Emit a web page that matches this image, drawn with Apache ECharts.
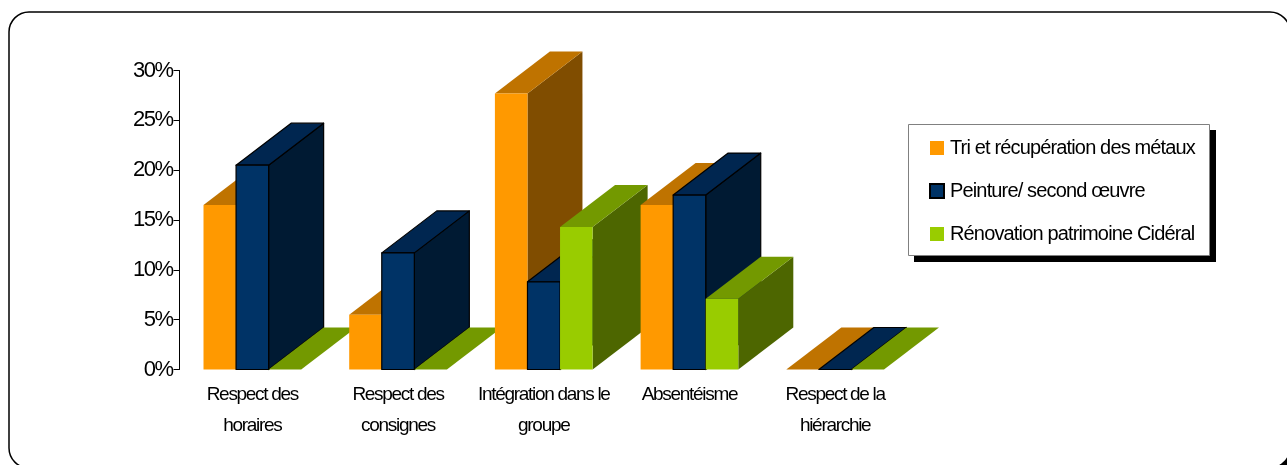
<!DOCTYPE html>
<html>
<head>
<meta charset="utf-8">
<style>html,body{margin:0;padding:0;background:#fff;overflow:hidden}#c{width:1287px;height:465px}</style>
<script src="https://cdn.jsdelivr.net/npm/echarts@6/dist/echarts.min.js"></script>
</head>
<body>
<div id="c"></div>
<script>
const categories = ['Respect des\nhoraires', 'Respect des\nconsignes', 'Intégration dans le\ngroupe', 'Absentéisme', 'Respect de la\nhiérarchie'];
const seriesNames = ['Tri et récupération des métaux', 'Peinture/ second œuvre', 'Rénovation patrimoine Cidéral'];
const triValues = [16.5, 5.5, 27.7, 16.5, 0];
const peintureValues = [20.5, 11.7, 8.8, 17.5, 0];
const renovationValues = [0, 0, 14.3, 7.1, 0];
const frontColors = ['#ff9900', '#003366', '#99cc00'];
const topColors = ['#bf7300', '#002650', '#739900'];
const sideColors = ['#804d00', '#001a33', '#4d6600'];
const strokeColors = [null, '#000000', null];
const depthX = 55, depthY = 42, barShare = 0.2235;
const spacingBySize = {22: -1.5, 20: -0.85, 19: -1.3};

// tight glyph spacing of the original rendering
const nativeFill = CanvasRenderingContext2D.prototype.fillText;
CanvasRenderingContext2D.prototype.fillText = function (t, x, y, m) {
  const size = parseInt((this.font.match(/(\d+)px/) || [])[1], 10);
  this.letterSpacing = (spacingBySize[size] || 0) + 'px';
  return m === undefined ? nativeFill.call(this, t, x, y) : nativeFill.call(this, t, x, y, m);
};

function bar3d(seriesIndex) {
  return function (params, api) {
    const cat = api.value(0);
    const top = api.coord([cat, api.value(1)]);
    const base = api.coord([cat, 0]);
    const w = api.size([1, 0])[0] * barShare;
    const x0 = top[0] + (seriesIndex - 1.5) * w;
    const x1 = x0 + w;
    const yT = top[1], yB = base[1];
    const order = cat * 10 + seriesIndex * 3;
    const stroke = strokeColors[seriesIndex];
    const line = stroke ? { stroke: stroke, lineWidth: 1.2, lineJoin: 'round' } : { stroke: null };
    const poly = (pts, fill, k) => ({
      type: 'polygon', z2: order + k,
      shape: { points: pts },
      style: Object.assign({ fill: fill }, line)
    });
    const children = [
      poly([[x1, yT], [x1 + depthX, yT - depthY], [x1 + depthX, yB - depthY], [x1, yB]], sideColors[seriesIndex], 0),
      poly([[x0, yT], [x0 + depthX, yT - depthY], [x1 + depthX, yT - depthY], [x1, yT]], topColors[seriesIndex], 1)
    ];
    if (yB > yT) children.push(poly([[x0, yT], [x1, yT], [x1, yB], [x0, yB]], frontColors[seriesIndex], 2));
    return { type: 'group', children: children };
  };
}

const allValues = [triValues, peintureValues, renovationValues];
const chart = echarts.init(document.getElementById('c'), null, { renderer: 'canvas' });
chart.setOption({
  animation: false,
  backgroundColor: '#fff',
  textStyle: { fontFamily: '"Liberation Sans", Arial, sans-serif', color: '#000' },
  graphic: [
    { type: 'rect', z: -2, shape: { x: 13, y: 16, width: 1281, height: 456, r: 20 }, style: { fill: '#000' } },
    { type: 'rect', z: -1, shape: { x: 9, y: 12, width: 1281, height: 456, r: 20 }, style: { fill: '#fff', stroke: '#000', lineWidth: 1.5 } },
    { type: 'rect', z: 1, shape: { x: 914, y: 130, width: 302, height: 132 }, style: { fill: '#000' } },
    { type: 'rect', z: 2, shape: { x: 908.5, y: 124.5, width: 301, height: 131 }, style: { fill: '#fff', stroke: '#808080', lineWidth: 1 } }
  ],
  grid: { left: 179.5, top: 70.5, width: 728.5, height: 299, containLabel: false },
  xAxis: {
    type: 'category', data: categories,
    axisLine: { show: false }, axisTick: { show: false }, splitLine: { show: false },
    axisLabel: { interval: 0, color: '#000', fontSize: 19, lineHeight: 31, margin: 10, verticalAlign: 'top', hideOverlap: false }
  },
  yAxis: {
    type: 'value', min: 0, max: 30, interval: 5,
    axisLine: { show: true, lineStyle: { color: '#000', width: 1 } },
    axisTick: { show: true, length: 6, lineStyle: { color: '#000', width: 1 } },
    splitLine: { show: false },
    axisLabel: { formatter: '{value}%', color: '#000', fontSize: 22, margin: 7, padding: [2, 0, 0, 0] }
  },
  legend: {
    orient: 'vertical', left: 929, top: 138,
    selectedMode: false, icon: 'rect',
    itemWidth: 14, itemHeight: 14, itemGap: 23,
    padding: 0,
    textStyle: { color: '#000', fontSize: 20, padding: [0, 0, 0, 1] },
    data: seriesNames
  },
  series: seriesNames.map((name, s) => ({
    type: 'custom', name: name, clip: false,
    renderItem: bar3d(s),
    itemStyle: { color: frontColors[s], borderColor: strokeColors[s] || undefined, borderWidth: strokeColors[s] ? 1.5 : 0 },
    encode: { x: 0, y: 1 },
    data: allValues[s].map((v, i) => [i, v])
  }))
});
</script>
</body>
</html>
